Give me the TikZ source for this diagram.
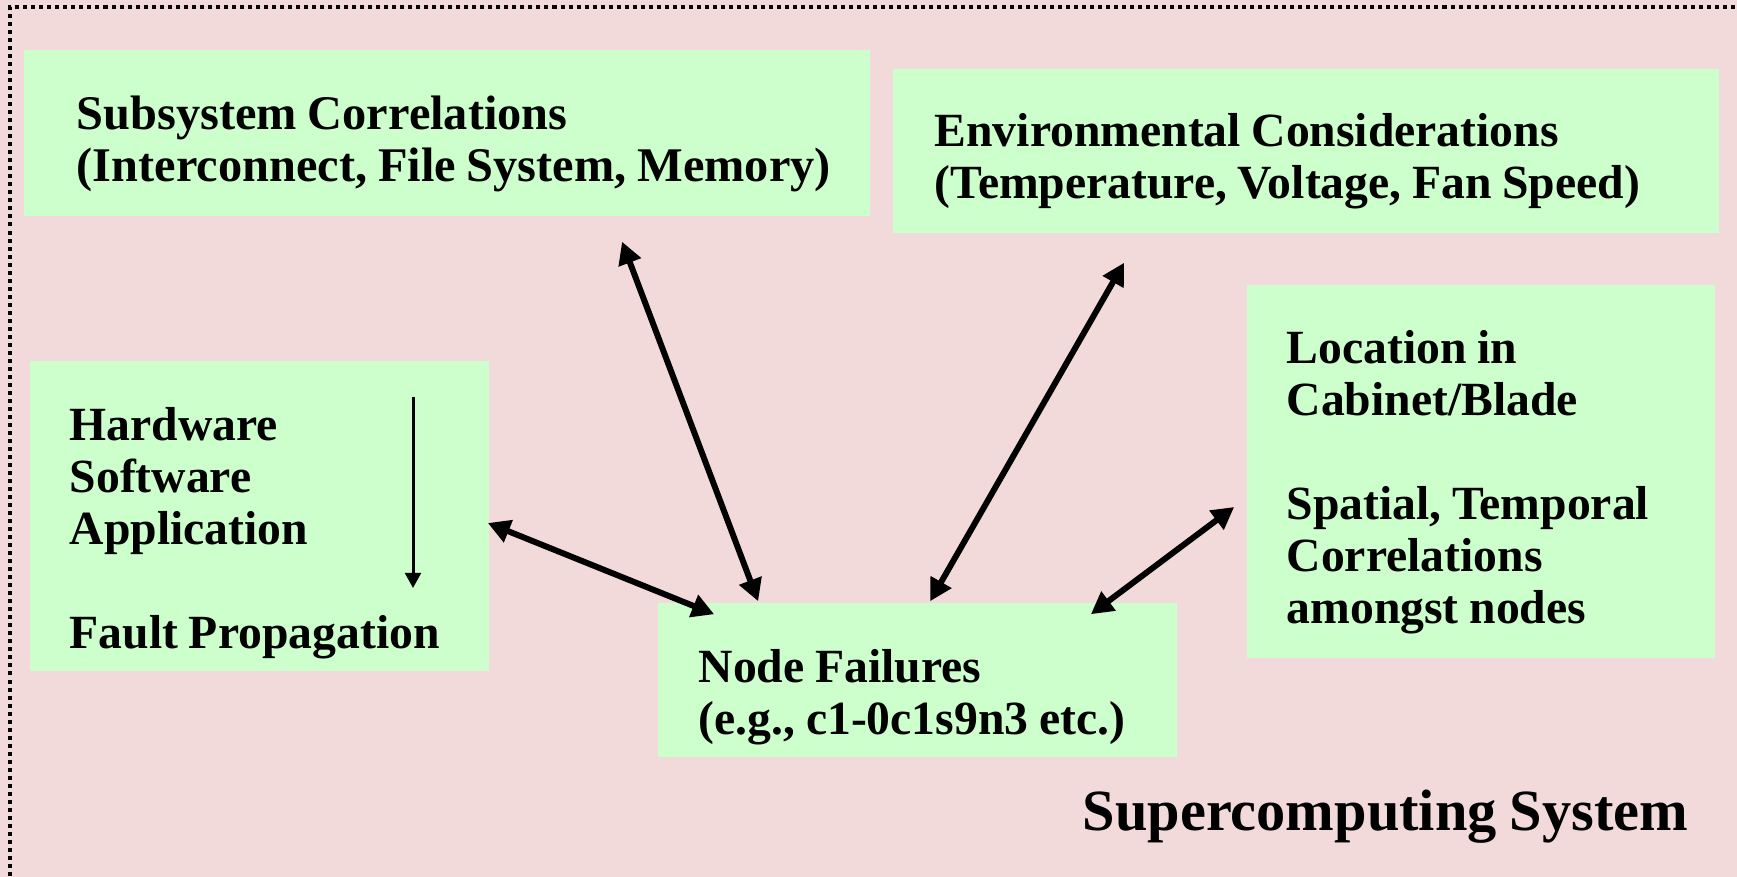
\documentclass[tikz,border=0pt]{standalone}
\usepackage{fontspec}
\setmainfont[WordSpace=0.9]{Liberation Serif}
\usetikzlibrary{
  arrows.meta,
  positioning,
  calc
}
\definecolor{scBack}{HTML}{F2DADA}
\definecolor{scBox}{HTML}{CCFFCC}
\tikzset{
  scbox/.style={fill=scBox, inner sep=0pt},
  sctext/.style={
    anchor=west, inner sep=0pt, align=left,
    font=\fontsize{13.55pt}{14.8pt}\selectfont\bfseries
  },
  corr/.style={{Triangle[length=6.3pt,width=6.5pt]}-{Triangle[length=6.3pt,width=6.5pt]}, line width=1.7pt},
  propagate/.style={-{Triangle[length=4.3pt,width=4.5pt]}, line width=0.85pt},
  frame/.style={draw=black, line width=1.14pt, dash pattern=on 1.14pt off 1.14pt},
  systitle/.style={font=\fontsize{16.6pt}{19pt}\selectfont\bfseries, inner sep=0pt}
}

\begin{document}
\begin{tikzpicture}[x=0.01cm, y=-0.01cm]
  \fill[scBack] (0,0) rectangle (1737,877);
  \clip (0,0) rectangle (1737,877);
  \draw[frame] (10,900) -- (10,7.3) -- (1760,7.3);

  \node[scbox, minimum width=8.46cm, minimum height=1.66cm] (sub) at (447,133) {};
  \node[scbox, minimum width=8.26cm, minimum height=1.64cm] (env) at (1306,151) {};
  \node[scbox, minimum width=4.59cm, minimum height=3.10cm] (hw) at (259.5,516) {};
  \node[scbox, minimum width=4.68cm, minimum height=3.73cm] (loc) at (1481,471.5) {};
  \node[scbox, minimum width=5.19cm, minimum height=1.54cm] (fail) at (917.5,680) {};

  \node[sctext, font=\fontsize{13.75pt}{14.8pt}\selectfont\bfseries] (subText) at (76,144)
    {Subsystem Correlations\\(Interconnect, File System, Memory)};
  \node[sctext] (envText) at (934,161)
    {Environmental Considerations\\(Temperature, Voltage, Fan Speed)};
  \node[sctext] (hwText) at (69,533)
    {Hardware\\Software\\Application\\[14.8pt]Fault Propagation};
  \node[sctext] (locText) at (1286,482)
    {Location in\\Cabinet/Blade\\[14.8pt]Spatial, Temporal\\Correlations\\amongst nodes};
  \node[sctext] (failText) at (698,697)
    {Node Failures\\(e.g., c1-0c1s9n3 etc.)};
  \node[systitle, anchor=base west] (sys) at (1082,830) {Supercomputing System};

  \coordinate (propTop) at (413,397);
  \coordinate (propBot) at (413,588);
  \draw[propagate] (propTop) -- (propBot);

  \draw[corr] ([shift={(-2,7)}]hw.east) -- ([shift={(57,12)}]fail.north west);
  \draw[corr] ([shift={(599,25)}]sub.south west) -- ([shift={(101,-1)}]fail.north west);
  \draw[corr] ([shift={(232,29)}]env.south west) -- ([shift={(273,-1)}]fail.north west);
  \draw[corr] ([shift={(-12,35.5)}]loc.west) -- ([shift={(-87,12)}]fail.north east);
\end{tikzpicture}
\end{document}
